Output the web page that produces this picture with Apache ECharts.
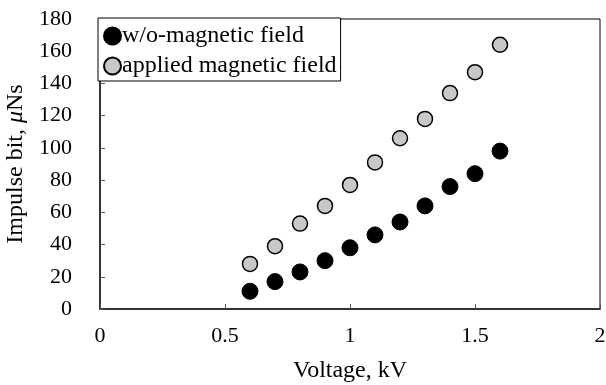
<!DOCTYPE html>
<html>
<head>
<meta charset="utf-8">
<script src="https://cdn.jsdelivr.net/npm/echarts@6/dist/echarts.min.js"></script>
<style>
  html, body { margin: 0; padding: 0; background: #fff; }
  #chart { width: 606px; height: 385px; }
</style>
</head>
<body>
<div id="chart"></div>
<script>
  // voltage in kV
  var voltage = [0.6, 0.7, 0.8, 0.9, 1.0, 1.1, 1.2, 1.3, 1.4, 1.5, 1.6];
  // impulse bit, uNs
  var withoutField = [11, 17, 23, 30, 38, 46, 54, 64, 76, 84, 98];
  var appliedField = [28, 39, 53, 64, 77, 91, 106, 118, 134, 147, 164];

  var font = 'Liberation Serif';

  function pairs(ys) {
    return voltage.map(function (x, i) { return [x, ys[i]]; });
  }

  var myChart = echarts.init(document.getElementById('chart'));
  var option = {
    backgroundColor: '#fff',
    animation: false,
    grid: {
      left: 100, right: 6, top: 19, bottom: 76,
      outerBoundsMode: 'none',
      show: true, borderColor: '#000', borderWidth: 1
    },
    legend: {
      orient: 'vertical',
      left: 98, top: 18,
      padding: [6, 4, 3, 5],
      itemGap: 6,
      itemWidth: 17, itemHeight: 17,
      backgroundColor: '#fff',
      borderColor: '#000', borderWidth: 1,
      textStyle: { fontFamily: font, fontSize: 24, color: '#000', padding: [0, 0, 0, -4] },
      data: [
        { name: 'w/o-magnetic field', icon: 'circle' },
        { name: 'applied magnetic field', icon: 'circle' }
      ]
    },
    xAxis: {
      type: 'value',
      min: 0, max: 2, interval: 0.5,
      name: 'Voltage, kV',
      nameLocation: 'middle',
      nameGap: 50,
      nameTextStyle: { fontFamily: font, fontSize: 24, color: '#000' },
      axisLine: { lineStyle: { color: '#333', width: 2 } },
      axisTick: { inside: true, length: 5, lineStyle: { color: '#555' } },
      axisLabel: { fontFamily: font, fontSize: 22, color: '#000', margin: 16 },
      splitLine: { show: false }
    },
    yAxis: {
      type: 'value',
      min: 0, max: 180, interval: 20,
      name: 'Impulse bit, {i|μ}Ns',
      nameLocation: 'middle',
      nameGap: 67,
      nameTextStyle: {
        fontFamily: font, fontSize: 24, color: '#000',
        rich: { i: { fontFamily: font, fontSize: 24, fontStyle: 'italic', color: '#000' } }
      },
      axisLine: { lineStyle: { color: '#333', width: 2 } },
      axisTick: { inside: true, length: 5, lineStyle: { color: '#555' } },
      axisLabel: { fontFamily: font, fontSize: 22, color: '#000', margin: 28 },
      splitLine: { show: false }
    },
    series: [
      {
        name: 'w/o-magnetic field',
        type: 'scatter',
        symbol: 'circle',
        symbolSize: 16,
        itemStyle: { color: '#000', borderColor: '#000', borderWidth: 1, opacity: 1 },
        data: pairs(withoutField)
      },
      {
        name: 'applied magnetic field',
        type: 'scatter',
        symbol: 'circle',
        symbolSize: 15,
        itemStyle: { color: '#c8c8c8', borderColor: '#000', borderWidth: 1.5, opacity: 1 },
        data: pairs(appliedField)
      }
    ]
  };
  myChart.setOption(option, true);
</script>
</body>
</html>
